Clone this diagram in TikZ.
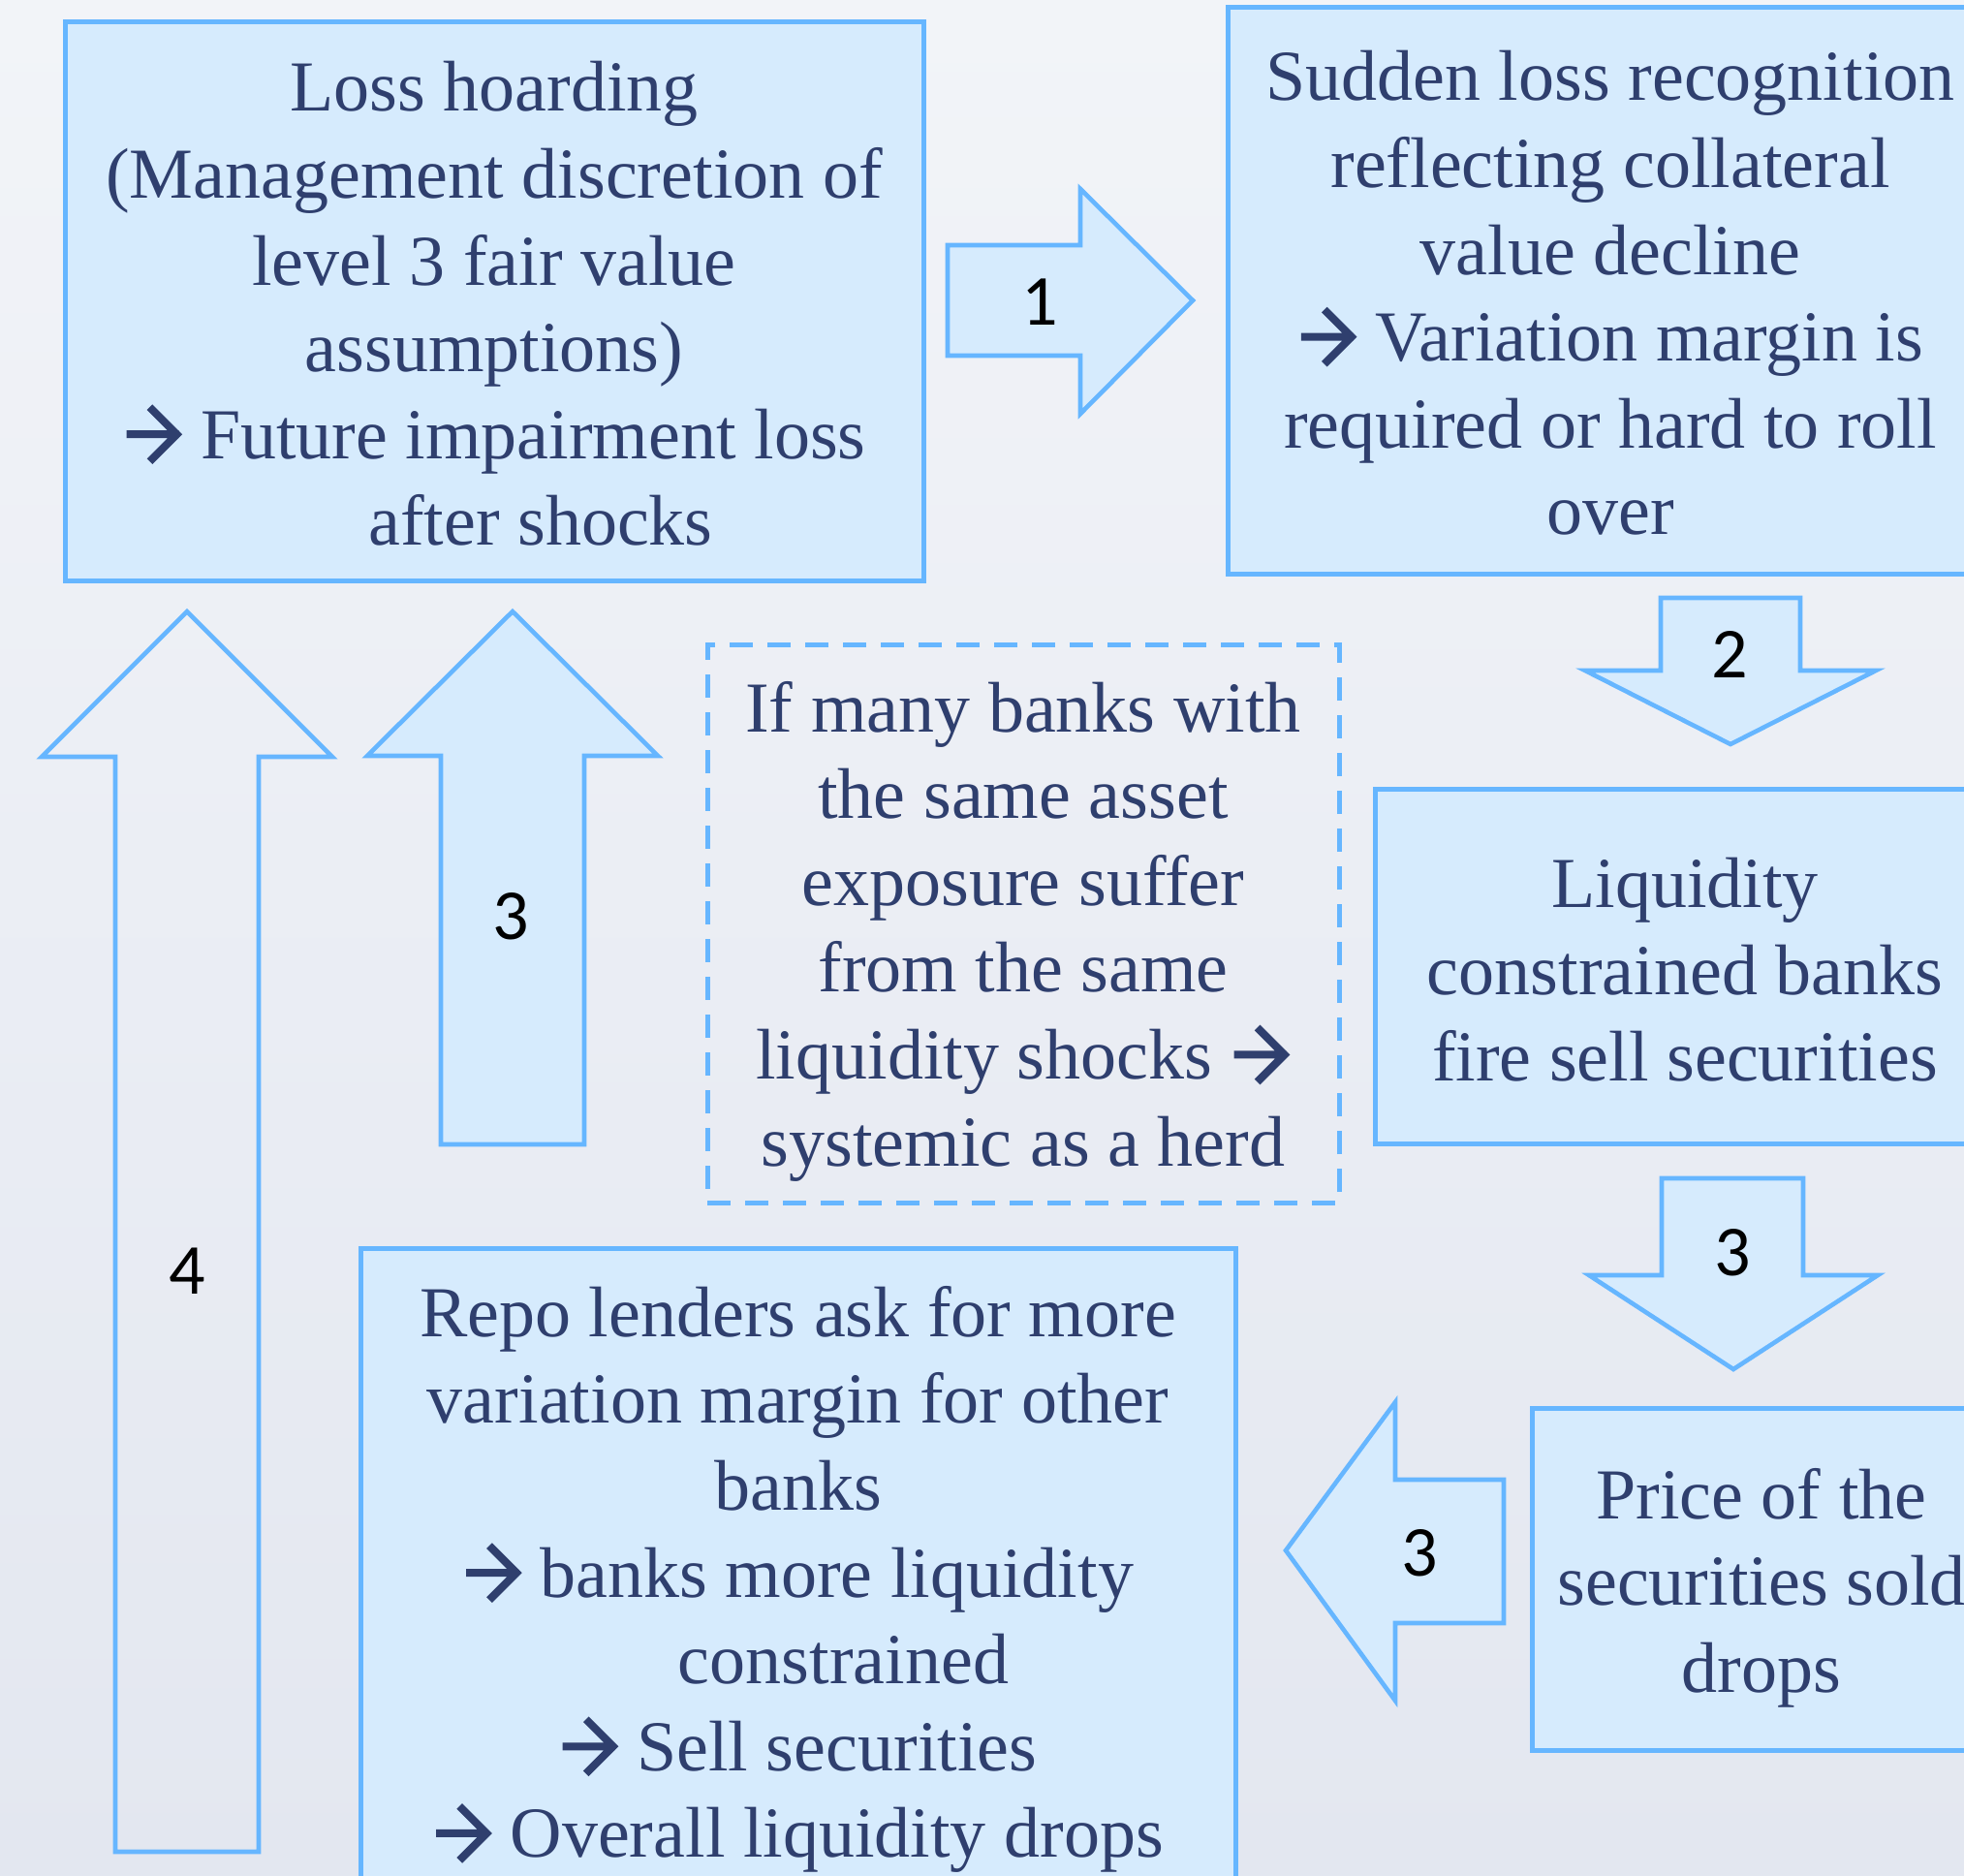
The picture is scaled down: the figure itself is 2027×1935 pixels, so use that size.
\documentclass[tikz,border=0pt]{standalone}
\usepackage{fontspec}
\setmainfont{Liberation Serif}
\newfontfamily\numfont{Carlito}
\definecolor{bgtop}{RGB}{242,244,248}
\definecolor{bgbot}{RGB}{227,231,240}
\definecolor{boxfill}{RGB}{214,235,253}
\definecolor{boxline}{RGB}{102,182,255}
\definecolor{txtcol}{RGB}{47,63,110}
\newcommand{\yields}{\tikz[x=1pt, y=1pt, baseline=0pt]
  \draw [txtcol, line width=4pt, miter limit=10] (0,12.5) -- (27,12.5)
    (12,26.5) -- (26,12.5) -- (12,-1.5);}
\tikzset{
  box_n/.style = {rectangle, draw=boxline, fill=boxfill, line width=2.5pt,
    inner sep=0pt},
  dash_n/.style = {box_n, fill=none, dash pattern=on 12pt off 7.5pt},
  txt_n/.style = {align=center, text=txtcol, inner sep=0pt,
    font=\fontsize{37}{44.8}\selectfont},
  num_n/.style = {inner sep=0pt, text=black, font=\numfont\fontsize{37}{44}\selectfont},
  blk_arrow/.style = {draw=boxline, fill=boxfill, line width=2.3pt, line join=miter}}

\begin{document}
\begin{tikzpicture}[x=0.5pt, y=-0.5pt]
 \useasboundingbox (0,0) rectangle (2027,1935);
 \clip (0,0) rectangle (2027,1935);
 \shade [top color=bgtop, bottom color=bgbot] (0,0) rectangle (2027,1935);

% boxes
\node [box_n, minimum width=443pt, minimum height=288.5pt] (hoard) at (510,310.5) {};
\node [box_n, minimum width=395pt, minimum height=292.5pt] (recog) at (1662,299.5) {};
\node [box_n, minimum width=319.5pt, minimum height=183pt] (fire) at (1739,997) {};
\node [box_n, minimum width=237pt, minimum height=176.5pt] (price) at (1818,1629.5) {};
\node [box_n, minimum width=451.5pt, minimum height=336pt] (repo) at (823.5,1624) {};
\node [dash_n, minimum width=326pt, minimum height=288pt] (herd) at (1056,953) {};

% box texts
\node [txt_n] (hoard_t) at ([yshift=-1.5pt]hoard.center)
  {Loss hoarding\\(Management discretion of\\level 3 fair value\\assumptions)\\
   \yields{} Future impairment loss\\\hspace*{48pt}after shocks};
\node [txt_n] (recog_t) at ([yshift=-1.5pt]recog.center)
  {Sudden loss recognition\\reflecting collateral\\value decline\\
   \yields{} Variation margin is\\required or hard to roll\\over};
\node [txt_n] (fire_t) at ([yshift=-2pt]fire.center)
  {Liquidity\\constrained banks\\fire sell securities};
\node [txt_n] (price_t) at ([yshift=-4.5pt]price.center)
  {Price of the\\securities sold\\drops};
\node [txt_n] (repo_t) at ([yshift=-3pt]repo.center)
  {Repo lenders ask for more\\variation margin for other\\banks\\
   \yields{} banks more liquidity\\\hspace*{47pt}constrained\\
   \yields{} Sell securities\\\yields{} Overall liquidity drops};
\node [txt_n] (herd_t) at ([yshift=-4pt]herd.center)
  {If many banks with\\the same asset\\exposure suffer\\from the same\\
   liquidity shocks \yields\\systemic as a herd};

% block arrows
\draw [blk_arrow] (978,253) -- (1115,253) -- (1115,195) -- (1231,310)
  -- (1115,427) -- (1115,367) -- (978,367) -- cycle;
\draw [blk_arrow] (1714,617) -- (1858,617) -- (1858,692) -- (1936,692)
  -- (1786,768) -- (1636,692) -- (1714,692) -- cycle;
\draw [blk_arrow] (1715,1216) -- (1861,1216) -- (1861,1316) -- (1938,1316)
  -- (1789,1413) -- (1640,1316) -- (1715,1316) -- cycle;
\draw [blk_arrow] (1552,1527) -- (1440,1527) -- (1440,1447) -- (1327,1600)
  -- (1440,1755) -- (1440,1675) -- (1552,1675) -- cycle;
\draw [blk_arrow] (455,1181) -- (455,780) -- (379,780) -- (529,631)
  -- (679,780) -- (603,780) -- (603,1181) -- cycle;
\draw [blk_arrow, fill=none] (119,1911) -- (119,781) -- (43,781) -- (193,631)
  -- (343,781) -- (267,781) -- (267,1911) -- cycle;

% arrow labels
\node [num_n] (n1) at (1073,312) {1};
\node [num_n] (n2) at (1785,675) {2};
\node [num_n] (n3a) at (1788,1293) {3};
\node [num_n] (n3b) at (1465,1603) {3};
\node [num_n] (n3c) at (527,946) {3};
\node [num_n] (n4) at (193,1312) {4};
\end{tikzpicture}
\end{document}
